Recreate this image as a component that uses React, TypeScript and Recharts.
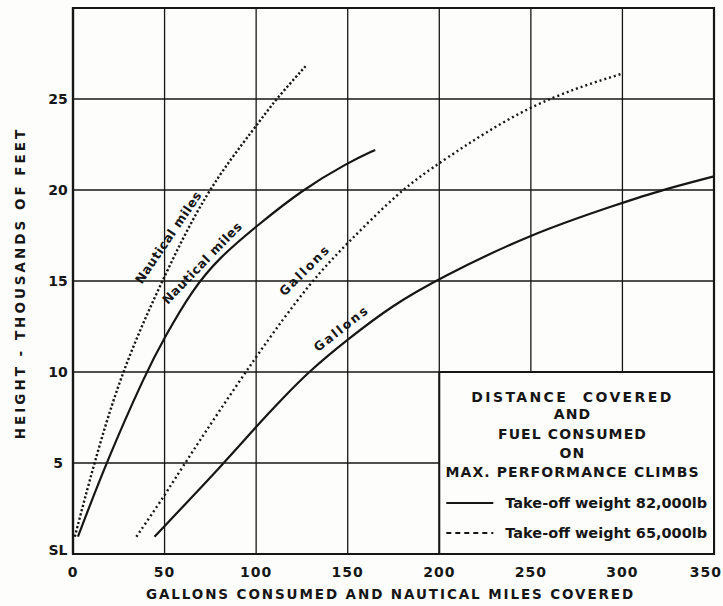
import {
  CartesianGrid,
  Label,
  Line,
  LineChart,
  ReferenceArea,
  ReferenceDot,
  XAxis,
  YAxis,
} from "recharts";

// axis ticks
const xTicks = [0, 50, 100, 150, 200, 250, 300, 350];
const yTicks = [0, 5, 10, 15, 20, 25, 30];
const yTickLabels = ["SL", "5", "10", "15", "20", "25", ""];

// take-off weight 82,000 lb (solid)
const nmHeavyX = [2.7, 18, 40, 50, 65, 80, 100, 125, 150, 165];
const nmHeavyY = [0.95, 5, 10, 11.9, 14.5, 16.3, 18, 20, 21.5, 22.2];
const galHeavyX = [44.5, 82.6, 100, 115, 128.5, 150, 175, 200, 250, 300, 321.5, 350];
const galHeavyY = [0.95, 5, 7, 8.6, 10, 11.8, 13.7, 15.15, 17.6, 19.3, 20, 20.75];

// take-off weight 65,000 lb (dotted)
const nmLightX = [1, 11.5, 26.4, 48.4, 73, 100, 110, 127];
const nmLightY = [0.95, 5, 10, 15, 20, 23.5, 24.9, 26.8];
const galLightX = [34.6, 50, 61, 100, 130, 150, 179, 200, 250, 300];
const galLightY = [0.95, 3.2, 5, 10.9, 15, 17.1, 20, 21.5, 24.8, 26.4];

const legendTitle = ["DISTANCE  COVERED", "AND", "FUEL CONSUMED", "ON", "MAX. PERFORMANCE CLIMBS"];
const legendItems = ["Take-off weight 82,000lb", "Take-off weight 65,000lb"];

const curveNotes = [
  { text: "Nautical miles", x: 52, y: 17.4, angle: -56, spacing: 0.6 },
  { text: "Nautical miles", x: 70.5, y: 16, angle: -46, spacing: 0.6 },
  { text: "Gallons", x: 126.5, y: 15.6, angle: -45, spacing: 2 },
  { text: "Gallons", x: 146.5, y: 12.4, angle: -38, spacing: 2 },
];

const toPoints = (xs: number[], ys: number[]) => xs.map((x, i) => ({ x, y: ys[i] }));

const FONT = "'DejaVu Sans', sans-serif";
const INK = "#161616";
const PAPER = "#fdfdfc";

function LegendBox(props: any) {
  const { x, y, width } = props.viewBox;
  const cx = x + width * 0.485;
  const titleY = [25, 42, 62, 81, 100];
  return (
    <g fontFamily={FONT} fill={INK}>
      {legendTitle.map((t, i) => (
        <text
          key={i}
          x={cx}
          y={y + titleY[i]}
          textAnchor="middle"
          dominantBaseline="central"
          fontSize={14}
          fontWeight="bold"
          letterSpacing={i === 0 ? 2.4 : 1.1}
          style={{ whiteSpace: "pre" }}
        >
          {t}
        </text>
      ))}
      {legendItems.map((t, i) => (
        <g key={t}>
          <line
            x1={x + 7}
            x2={x + 54}
            y1={y + 131 + i * 30}
            y2={y + 131 + i * 30}
            stroke={INK}
            strokeWidth={2}
            strokeDasharray={i === 0 ? undefined : "5 4"}
          />
          <text
            x={x + 66}
            y={y + 131 + i * 30}
            dominantBaseline="central"
            fontSize={14.5}
            fontWeight="bold"
          >
            {t}
          </text>
        </g>
      ))}
    </g>
  );
}

function XTick(props: any) {
  const { x, y, payload, index } = props;
  const last = index === xTicks.length - 1;
  return (
    <text
      x={last ? x + 8 : x}
      y={y + 10}
      textAnchor={last ? "end" : "middle"}
      dominantBaseline="central"
      fontFamily={FONT}
      fontSize={14}
      fontWeight="bold"
      letterSpacing={1}
      fill={INK}
    >
      {payload.value}
    </text>
  );
}

function YTick(props: any) {
  const { x, y, payload, index } = props;
  return (
    <text
      x={x - 7}
      y={index === 0 ? y - 4 : y}
      textAnchor="middle"
      dominantBaseline="central"
      fontFamily={FONT}
      fontSize={14}
      fontWeight="bold"
      fill={INK}
    >
      {yTickLabels[yTicks.indexOf(payload.value)]}
    </text>
  );
}

export default function App() {
  const series = [
    { key: "nmHeavy", data: toPoints(nmHeavyX, nmHeavyY), dash: undefined },
    { key: "galHeavy", data: toPoints(galHeavyX, galHeavyY), dash: undefined },
    { key: "nmLight", data: toPoints(nmLightX, nmLightY), dash: "2.2 2.2" },
    { key: "galLight", data: toPoints(galLightX, galLightY), dash: "2 3" },
  ];

  return (
    <div style={{ position: "absolute", left: 0, top: 0, background: PAPER }}>
      <LineChart width={723} height={606} margin={{ top: 8, right: 9, bottom: 0, left: 0 }}>
        <CartesianGrid stroke={INK} strokeWidth={1.3} />
        <XAxis
          type="number"
          dataKey="x"
          domain={[0, 350]}
          ticks={xTicks}
          interval={0}
          height={52}
          tickLine={false}
          axisLine={{ stroke: INK, strokeWidth: 2.2 }}
          tick={<XTick />}
          allowDataOverflow
        >
          <Label
            content={(p: any) => (
              <text
                x={p.viewBox.x + p.viewBox.width / 2 - 3}
                y={p.viewBox.y + 40}
                textAnchor="middle"
                dominantBaseline="central"
                fontFamily={FONT}
                fontSize={13.5}
                fontWeight="bold"
                letterSpacing={1.9}
                fill={INK}
              >
                GALLONS CONSUMED AND NAUTICAL MILES COVERED
              </text>
            )}
          />
        </XAxis>
        <YAxis
          type="number"
          dataKey="y"
          domain={[0, 30]}
          ticks={yTicks}
          interval={0}
          width={73}
          tickLine={false}
          axisLine={{ stroke: INK, strokeWidth: 2.2 }}
          tick={<YTick />}
          allowDataOverflow
        >
          <Label
            content={(p: any) => {
              const cx = p.viewBox.x + 20;
              const cy = p.viewBox.y + p.viewBox.height / 2 + 2;
              return (
                <text
                  x={cx}
                  y={cy}
                  transform={`rotate(-90 ${cx} ${cy})`}
                  textAnchor="middle"
                  dominantBaseline="central"
                  fontFamily={FONT}
                  fontSize={13.5}
                  fontWeight="bold"
                  letterSpacing={3}
                  fill={INK}
                >
                  HEIGHT - THOUSANDS OF FEET
                </text>
              );
            }}
          />
        </YAxis>
        <ReferenceArea x1={0} x2={350} y1={0} y2={30} fill="none" stroke={INK} strokeWidth={2.2} />
        <ReferenceArea
          x1={200}
          x2={350}
          y1={0}
          y2={10}
          fill={PAPER}
          fillOpacity={1}
          stroke={INK}
          strokeWidth={2}
          label={<LegendBox />}
        />
        {series.map((s) => (
          <Line
            key={s.key}
            data={s.data}
            dataKey="y"
            type="basis"
            stroke={INK}
            strokeWidth={s.dash ? 2.4 : 2.2}
            strokeDasharray={s.dash}
            dot={false}
            activeDot={false}
            isAnimationActive={false}
          />
        ))}
        {curveNotes.map((n, i) => (
          <ReferenceDot
            key={i}
            x={n.x}
            y={n.y}
            r={0}
            shape={(p: any) => (
              <text
                x={p.cx}
                y={p.cy}
                transform={`rotate(${n.angle} ${p.cx} ${p.cy})`}
                textAnchor="middle"
                dominantBaseline="central"
                fontFamily={FONT}
                fontSize={12.5}
                fontWeight="bold"
                letterSpacing={n.spacing}
                fill={INK}
              >
                {n.text}
              </text>
            )}
          />
        ))}
      </LineChart>
    </div>
  );
}
